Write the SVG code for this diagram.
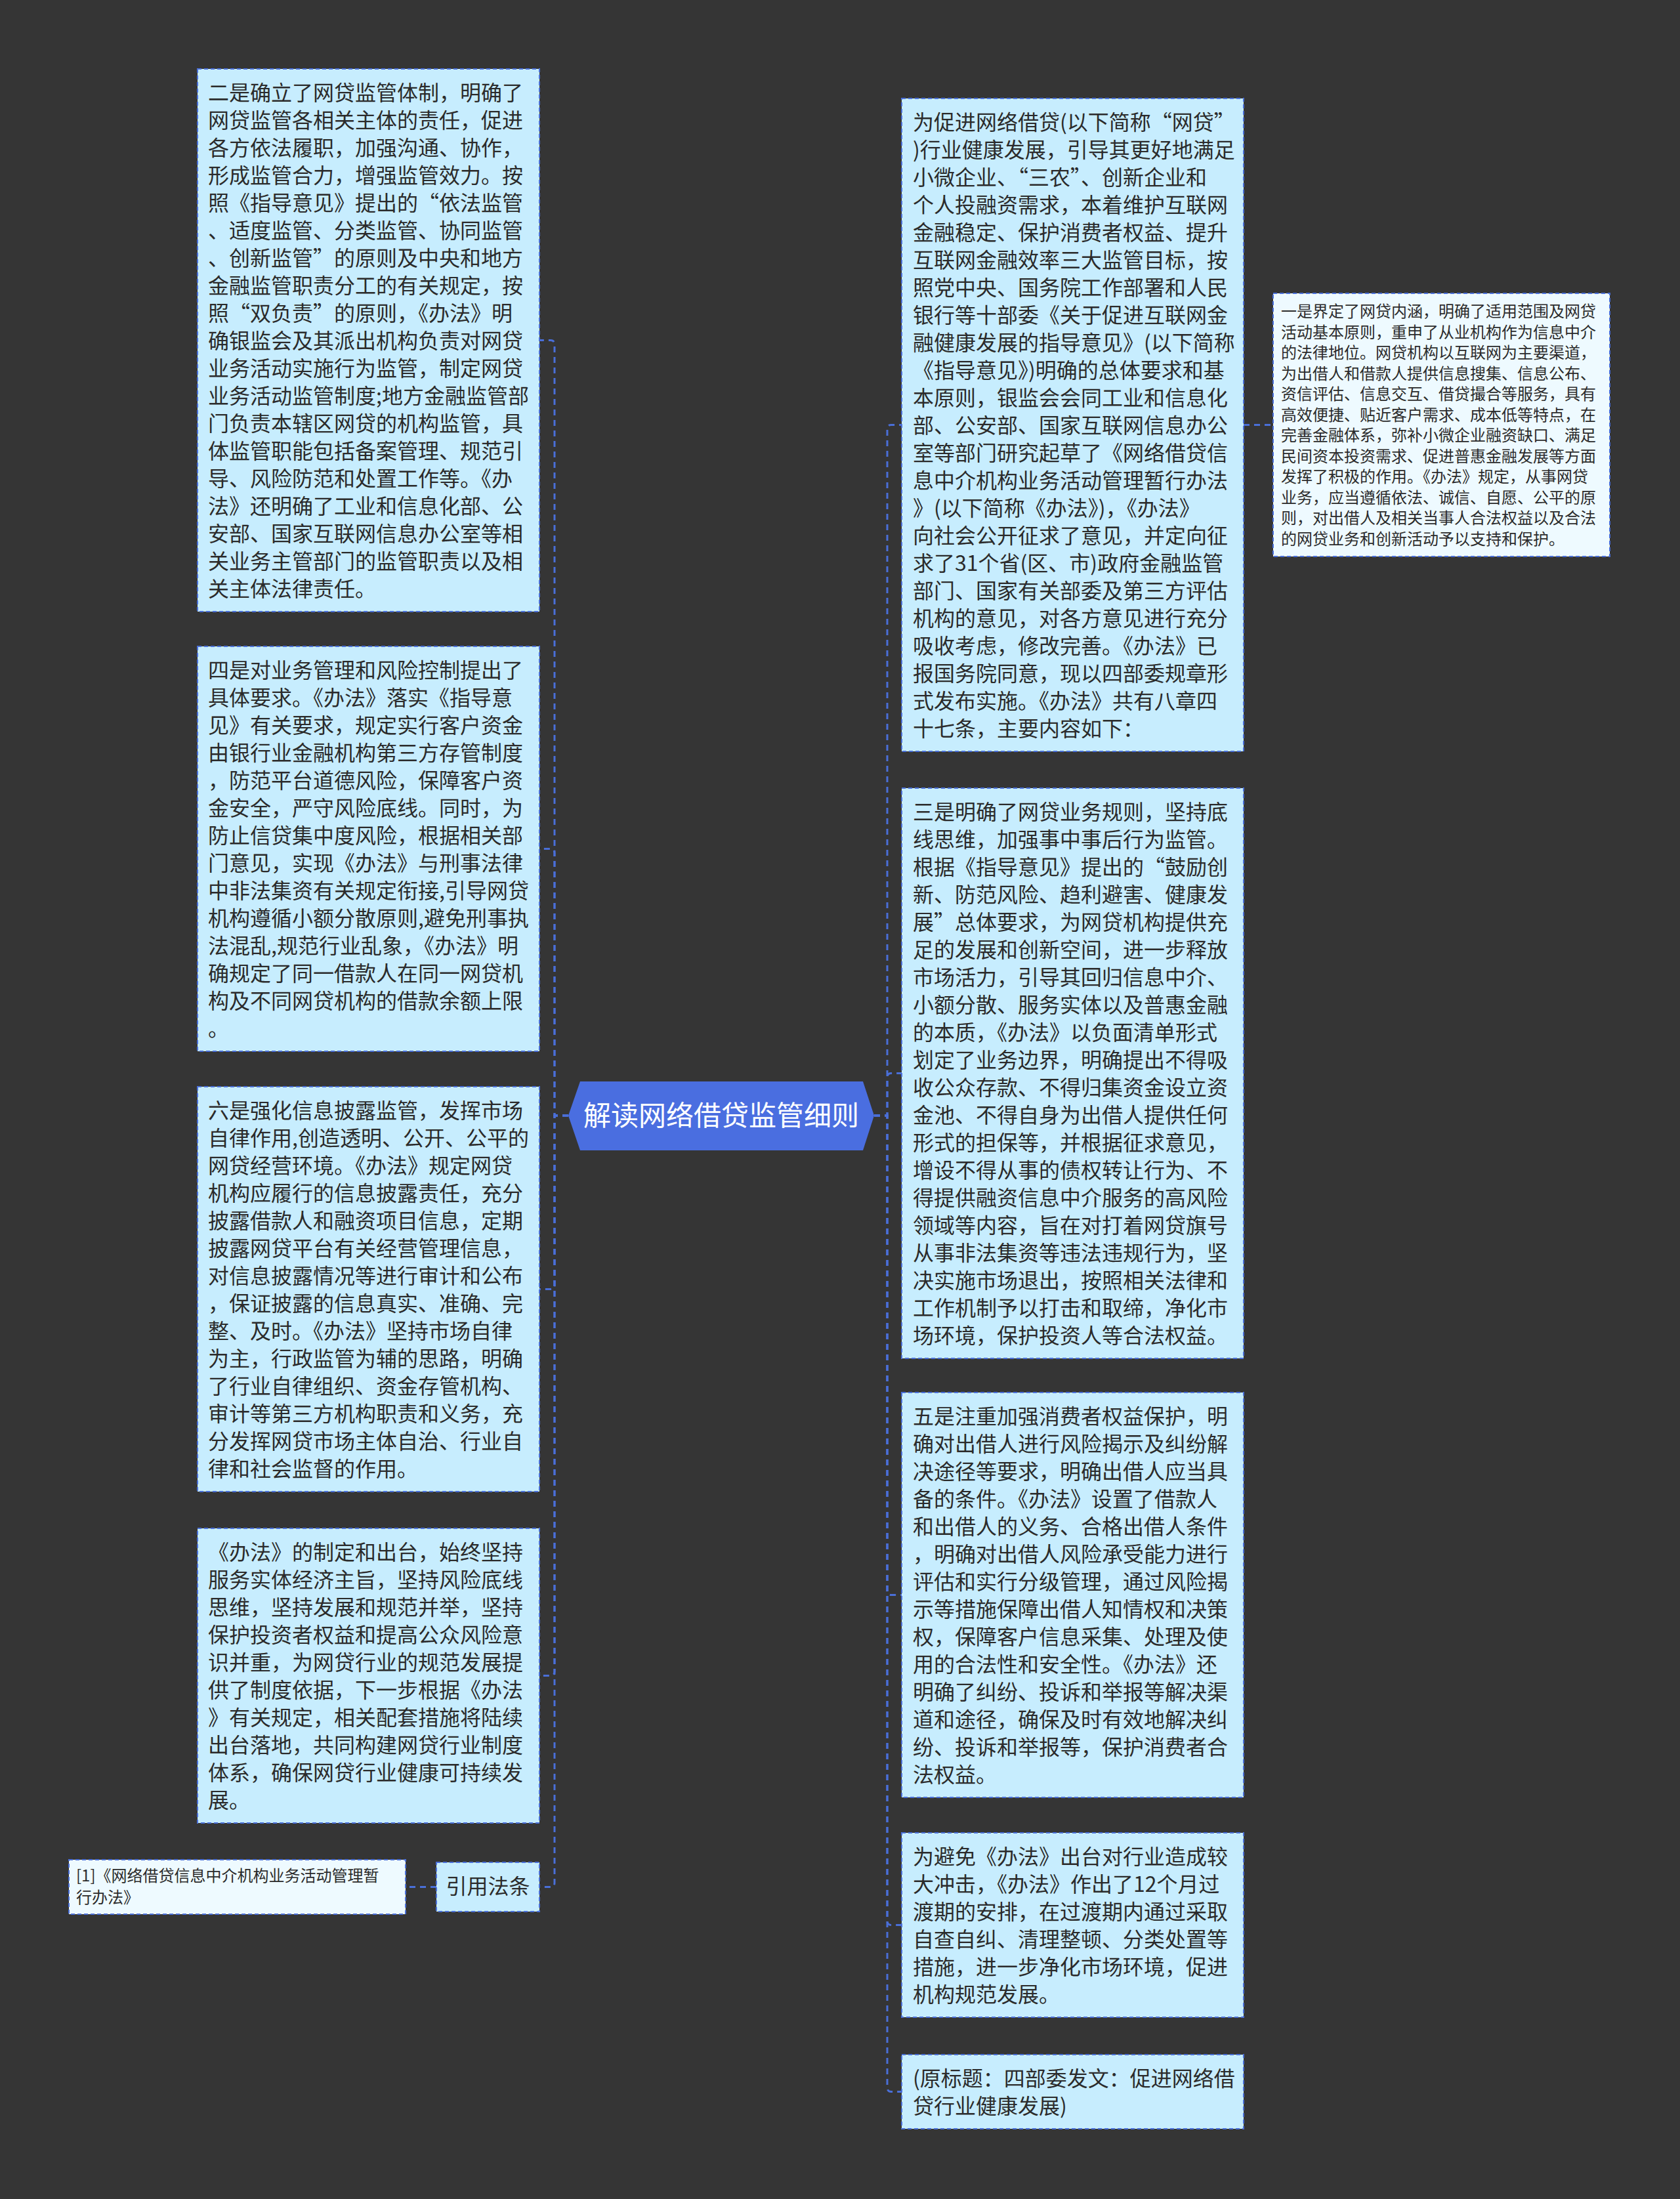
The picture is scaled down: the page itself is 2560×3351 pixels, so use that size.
<svg xmlns="http://www.w3.org/2000/svg" width="2560" height="3351" viewBox="0 0 2560 3351">
<style>
.bg{fill:#353535}
.box{fill:#c7edfe;stroke:#4a6fd8;stroke-width:2;stroke-dasharray:6 4}
.lbox{fill:#eefaff;stroke:#4a6fd8;stroke-width:2;stroke-dasharray:6 4}
.t{font-family:"Noto Sans CJK SC","Noto Sans",sans-serif;font-size:32px;fill:#2b2b2b}
.s{font-family:"Noto Sans CJK SC","Noto Sans",sans-serif;font-size:24px;fill:#2b2b2b}
.c{font-family:"Noto Sans CJK SC","Noto Sans",sans-serif;font-size:42px;fill:#ffffff}
.ln{fill:none;stroke:#4a6fd8;stroke-width:3;stroke-dasharray:9 7}
</style>
<rect class="bg" x="0" y="0" width="2560" height="3351"/>
<g id="connectors">
<path class="ln" d="M866 1700 H845 V525 Q845 518.5 839 518.5 H822"/>
<path class="ln" d="M866 1700 H845 V1300 Q845 1293.5 839 1293.5 H822"/>
<path class="ln" d="M866 1700 H845 V1958 Q845 1964.5 839 1964.5 H822"/>
<path class="ln" d="M866 1700 H845 V2547 Q845 2553.5 839 2553.5 H822"/>
<path class="ln" d="M866 1700 H845 V2869 Q845 2875.5 839 2875.5 H822"/>
<path class="ln" d="M1332 1700 H1352 V654 Q1352 647.5 1358 647.5 H1374"/>
<path class="ln" d="M1332 1700 H1352 V1642 Q1352 1635.5 1358 1635.5 H1374"/>
<path class="ln" d="M1332 1700 H1352 V2424 Q1352 2430.5 1358 2430.5 H1374"/>
<path class="ln" d="M1332 1700 H1352 V2927 Q1352 2933.5 1358 2933.5 H1374"/>
<path class="ln" d="M1332 1700 H1352 V3181 Q1352 3187.5 1358 3187.5 H1374"/>
<path class="ln" d="M1895 647.5 H1940"/>
<path class="ln" d="M665 2875.5 H618"/>
</g>
<g id="center">
<polygon points="866,1700 884,1648 1315,1648 1332,1700 1315,1753 884,1753" fill="#4a6ee0"/>
<text class="c" x="1099" y="1715" text-anchor="middle">解读网络借贷监管细则</text>
</g>
<g id="n-er">
<rect class="box" x="301" y="105" width="521" height="827"/>
<text class="t" x="317" y="153"><tspan x="317">二是确立了网贷监管体制，明确了</tspan><tspan x="317" dy="42">网贷监管各相关主体的责任，促进</tspan><tspan x="317" dy="42">各方依法履职，加强沟通、协作，</tspan><tspan x="317" dy="42">形成监管合力，增强监管效力。按</tspan><tspan x="317" dy="42">照《指导意见》提出的“依法监管</tspan><tspan x="317" dy="42">、适度监管、分类监管、协同监管</tspan><tspan x="317" dy="42">、创新监管”的原则及中央和地方</tspan><tspan x="317" dy="42">金融监管职责分工的有关规定，按</tspan><tspan x="317" dy="42">照“双负责”的原则，《办法》明</tspan><tspan x="317" dy="42">确银监会及其派出机构负责对网贷</tspan><tspan x="317" dy="42">业务活动实施行为监管，制定网贷</tspan><tspan x="317" dy="42">业务活动监管制度;地方金融监管部</tspan><tspan x="317" dy="42">门负责本辖区网贷的机构监管，具</tspan><tspan x="317" dy="42">体监管职能包括备案管理、规范引</tspan><tspan x="317" dy="42">导、风险防范和处置工作等。《办</tspan><tspan x="317" dy="42">法》还明确了工业和信息化部、公</tspan><tspan x="317" dy="42">安部、国家互联网信息办公室等相</tspan><tspan x="317" dy="42">关业务主管部门的监管职责以及相</tspan><tspan x="317" dy="42">关主体法律责任。</tspan></text>
</g>
<g id="n-si">
<rect class="box" x="301" y="985" width="521" height="617"/>
<text class="t" x="317" y="1033"><tspan x="317">四是对业务管理和风险控制提出了</tspan><tspan x="317" dy="42">具体要求。《办法》落实《指导意</tspan><tspan x="317" dy="42">见》有关要求，规定实行客户资金</tspan><tspan x="317" dy="42">由银行业金融机构第三方存管制度</tspan><tspan x="317" dy="42">，防范平台道德风险，保障客户资</tspan><tspan x="317" dy="42">金安全，严守风险底线。同时，为</tspan><tspan x="317" dy="42">防止信贷集中度风险，根据相关部</tspan><tspan x="317" dy="42">门意见，实现《办法》与刑事法律</tspan><tspan x="317" dy="42">中非法集资有关规定衔接,引导网贷</tspan><tspan x="317" dy="42">机构遵循小额分散原则,避免刑事执</tspan><tspan x="317" dy="42">法混乱,规范行业乱象，《办法》明</tspan><tspan x="317" dy="42">确规定了同一借款人在同一网贷机</tspan><tspan x="317" dy="42">构及不同网贷机构的借款余额上限</tspan><tspan x="317" dy="42">。</tspan></text>
</g>
<g id="n-liu">
<rect class="box" x="301" y="1656" width="521" height="617"/>
<text class="t" x="317" y="1704"><tspan x="317">六是强化信息披露监管，发挥市场</tspan><tspan x="317" dy="42">自律作用,创造透明、公开、公平的</tspan><tspan x="317" dy="42">网贷经营环境。《办法》规定网贷</tspan><tspan x="317" dy="42">机构应履行的信息披露责任，充分</tspan><tspan x="317" dy="42">披露借款人和融资项目信息，定期</tspan><tspan x="317" dy="42">披露网贷平台有关经营管理信息，</tspan><tspan x="317" dy="42">对信息披露情况等进行审计和公布</tspan><tspan x="317" dy="42">，保证披露的信息真实、准确、完</tspan><tspan x="317" dy="42">整、及时。《办法》坚持市场自律</tspan><tspan x="317" dy="42">为主，行政监管为辅的思路，明确</tspan><tspan x="317" dy="42">了行业自律组织、资金存管机构、</tspan><tspan x="317" dy="42">审计等第三方机构职责和义务，充</tspan><tspan x="317" dy="42">分发挥网贷市场主体自治、行业自</tspan><tspan x="317" dy="42">律和社会监督的作用。</tspan></text>
</g>
<g id="n-banfa">
<rect class="box" x="301" y="2329" width="521" height="449"/>
<text class="t" x="317" y="2377"><tspan x="317">《办法》的制定和出台，始终坚持</tspan><tspan x="317" dy="42">服务实体经济主旨，坚持风险底线</tspan><tspan x="317" dy="42">思维，坚持发展和规范并举，坚持</tspan><tspan x="317" dy="42">保护投资者权益和提高公众风险意</tspan><tspan x="317" dy="42">识并重，为网贷行业的规范发展提</tspan><tspan x="317" dy="42">供了制度依据，下一步根据《办法</tspan><tspan x="317" dy="42">》有关规定，相关配套措施将陆续</tspan><tspan x="317" dy="42">出台落地，共同构建网贷行业制度</tspan><tspan x="317" dy="42">体系，确保网贷行业健康可持续发</tspan><tspan x="317" dy="42">展。</tspan></text>
</g>
<g id="n-yinyong">
<rect class="box" x="665" y="2838" width="157" height="75"/>
<text class="t" x="743.5" y="2886" text-anchor="middle">引用法条</text>
</g>
<g id="n-ref">
<rect class="lbox" x="105" y="2834" width="513" height="83"/>
<text class="s" x="116" y="2867"><tspan x="116">[1]《网络借贷信息中介机构业务活动管理暂</tspan><tspan x="116" dy="33">行办法》</tspan></text>
</g>
<g id="n-intro">
<rect class="box" x="1374" y="150" width="521" height="995"/>
<text class="t" x="1391" y="198"><tspan x="1391">为促进网络借贷(以下简称“网贷”</tspan><tspan x="1391" dy="42">)行业健康发展，引导其更好地满足</tspan><tspan x="1391" dy="42">小微企业、“三农”、创新企业和</tspan><tspan x="1391" dy="42">个人投融资需求，本着维护互联网</tspan><tspan x="1391" dy="42">金融稳定、保护消费者权益、提升</tspan><tspan x="1391" dy="42">互联网金融效率三大监管目标，按</tspan><tspan x="1391" dy="42">照党中央、国务院工作部署和人民</tspan><tspan x="1391" dy="42">银行等十部委《关于促进互联网金</tspan><tspan x="1391" dy="42">融健康发展的指导意见》(以下简称</tspan><tspan x="1391" dy="42">《指导意见》)明确的总体要求和基</tspan><tspan x="1391" dy="42">本原则，银监会会同工业和信息化</tspan><tspan x="1391" dy="42">部、公安部、国家互联网信息办公</tspan><tspan x="1391" dy="42">室等部门研究起草了《网络借贷信</tspan><tspan x="1391" dy="42">息中介机构业务活动管理暂行办法</tspan><tspan x="1391" dy="42">》(以下简称《办法》)，《办法》</tspan><tspan x="1391" dy="42">向社会公开征求了意见，并定向征</tspan><tspan x="1391" dy="42">求了31个省(区、市)政府金融监管</tspan><tspan x="1391" dy="42">部门、国家有关部委及第三方评估</tspan><tspan x="1391" dy="42">机构的意见，对各方意见进行充分</tspan><tspan x="1391" dy="42">吸收考虑，修改完善。《办法》已</tspan><tspan x="1391" dy="42">报国务院同意，现以四部委规章形</tspan><tspan x="1391" dy="42">式发布实施。《办法》共有八章四</tspan><tspan x="1391" dy="42">十七条，主要内容如下：</tspan></text>
</g>
<g id="n-yi">
<rect class="lbox" x="1940" y="447" width="513" height="401"/>
<text class="s" x="1952" y="483"><tspan x="1952">一是界定了网贷内涵，明确了适用范围及网贷</tspan><tspan x="1952" dy="31.5">活动基本原则，重申了从业机构作为信息中介</tspan><tspan x="1952" dy="31.5">的法律地位。网贷机构以互联网为主要渠道，</tspan><tspan x="1952" dy="31.5">为出借人和借款人提供信息搜集、信息公布、</tspan><tspan x="1952" dy="31.5">资信评估、信息交互、借贷撮合等服务，具有</tspan><tspan x="1952" dy="31.5">高效便捷、贴近客户需求、成本低等特点，在</tspan><tspan x="1952" dy="31.5">完善金融体系，弥补小微企业融资缺口、满足</tspan><tspan x="1952" dy="31.5">民间资本投资需求、促进普惠金融发展等方面</tspan><tspan x="1952" dy="31.5">发挥了积极的作用。《办法》规定，从事网贷</tspan><tspan x="1952" dy="31.5">业务，应当遵循依法、诚信、自愿、公平的原</tspan><tspan x="1952" dy="31.5">则，对出借人及相关当事人合法权益以及合法</tspan><tspan x="1952" dy="31.5">的网贷业务和创新活动予以支持和保护。</tspan></text>
</g>
<g id="n-san">
<rect class="box" x="1374" y="1201" width="521" height="869"/>
<text class="t" x="1391" y="1249"><tspan x="1391">三是明确了网贷业务规则，坚持底</tspan><tspan x="1391" dy="42">线思维，加强事中事后行为监管。</tspan><tspan x="1391" dy="42">根据《指导意见》提出的“鼓励创</tspan><tspan x="1391" dy="42">新、防范风险、趋利避害、健康发</tspan><tspan x="1391" dy="42">展”总体要求，为网贷机构提供充</tspan><tspan x="1391" dy="42">足的发展和创新空间，进一步释放</tspan><tspan x="1391" dy="42">市场活力，引导其回归信息中介、</tspan><tspan x="1391" dy="42">小额分散、服务实体以及普惠金融</tspan><tspan x="1391" dy="42">的本质，《办法》以负面清单形式</tspan><tspan x="1391" dy="42">划定了业务边界，明确提出不得吸</tspan><tspan x="1391" dy="42">收公众存款、不得归集资金设立资</tspan><tspan x="1391" dy="42">金池、不得自身为出借人提供任何</tspan><tspan x="1391" dy="42">形式的担保等，并根据征求意见，</tspan><tspan x="1391" dy="42">增设不得从事的债权转让行为、不</tspan><tspan x="1391" dy="42">得提供融资信息中介服务的高风险</tspan><tspan x="1391" dy="42">领域等内容，旨在对打着网贷旗号</tspan><tspan x="1391" dy="42">从事非法集资等违法违规行为，坚</tspan><tspan x="1391" dy="42">决实施市场退出，按照相关法律和</tspan><tspan x="1391" dy="42">工作机制予以打击和取缔，净化市</tspan><tspan x="1391" dy="42">场环境，保护投资人等合法权益。</tspan></text>
</g>
<g id="n-wu">
<rect class="box" x="1374" y="2122" width="521" height="617"/>
<text class="t" x="1391" y="2170"><tspan x="1391">五是注重加强消费者权益保护，明</tspan><tspan x="1391" dy="42">确对出借人进行风险揭示及纠纷解</tspan><tspan x="1391" dy="42">决途径等要求，明确出借人应当具</tspan><tspan x="1391" dy="42">备的条件。《办法》设置了借款人</tspan><tspan x="1391" dy="42">和出借人的义务、合格出借人条件</tspan><tspan x="1391" dy="42">，明确对出借人风险承受能力进行</tspan><tspan x="1391" dy="42">评估和实行分级管理，通过风险揭</tspan><tspan x="1391" dy="42">示等措施保障出借人知情权和决策</tspan><tspan x="1391" dy="42">权，保障客户信息采集、处理及使</tspan><tspan x="1391" dy="42">用的合法性和安全性。《办法》还</tspan><tspan x="1391" dy="42">明确了纠纷、投诉和举报等解决渠</tspan><tspan x="1391" dy="42">道和途径，确保及时有效地解决纠</tspan><tspan x="1391" dy="42">纷、投诉和举报等，保护消费者合</tspan><tspan x="1391" dy="42">法权益。</tspan></text>
</g>
<g id="n-guodu">
<rect class="box" x="1374" y="2793" width="521" height="281"/>
<text class="t" x="1391" y="2841"><tspan x="1391">为避免《办法》出台对行业造成较</tspan><tspan x="1391" dy="42">大冲击，《办法》作出了12个月过</tspan><tspan x="1391" dy="42">渡期的安排，在过渡期内通过采取</tspan><tspan x="1391" dy="42">自查自纠、清理整顿、分类处置等</tspan><tspan x="1391" dy="42">措施，进一步净化市场环境，促进</tspan><tspan x="1391" dy="42">机构规范发展。</tspan></text>
</g>
<g id="n-title">
<rect class="box" x="1374" y="3131" width="521" height="113"/>
<text class="t" x="1391" y="3179"><tspan x="1391">(原标题：四部委发文：促进网络借</tspan><tspan x="1391" dy="42">贷行业健康发展)</tspan></text>
</g>
</svg>
